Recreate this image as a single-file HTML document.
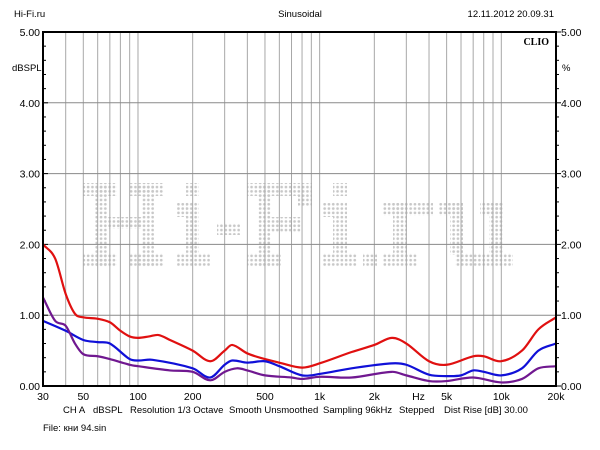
<!DOCTYPE html>
<html><head><meta charset="utf-8"><style>
html,body{margin:0;padding:0;background:#fff;width:600px;height:450px;overflow:hidden}
text{font-family:"Liberation Sans",sans-serif;font-size:9.5px;fill:#000}
</style></head><body>
<svg id="s" width="600" height="450" xmlns="http://www.w3.org/2000/svg">
<defs><pattern id="dots" width="4.3" height="4.3" patternUnits="userSpaceOnUse"><circle cx="2.15" cy="2.15" r="1.35" fill="#c8c8c8"/></pattern></defs>
<text x="14" y="17">Hi-Fi.ru</text>
<text x="300" y="17" text-anchor="middle">Sinusoidal</text>
<text x="554" y="17" text-anchor="end">12.11.2012 20.09.31</text>
<g fill="url(#dots)">
<rect x="83" y="183" width="34" height="13"/><rect x="95" y="183" width="13" height="84"/><rect x="83" y="253" width="34" height="14"/>
<rect x="130" y="183" width="34" height="13"/><rect x="142" y="183" width="12" height="84"/><rect x="130" y="253" width="34" height="14"/>
<rect x="108" y="217" width="34" height="12"/>
<rect x="186" y="183" width="13" height="13"/><rect x="186" y="202" width="13" height="52"/><rect x="177" y="203" width="10" height="14"/><rect x="177" y="253" width="33" height="14"/>
<rect x="217" y="223" width="23" height="12"/>
<rect x="247" y="183" width="65" height="13"/><rect x="258" y="183" width="13" height="84"/><rect x="298" y="196" width="14" height="10"/><rect x="271" y="217" width="30" height="16"/><rect x="247" y="253" width="34" height="14"/>
<rect x="333" y="183" width="14" height="13"/><rect x="333" y="202" width="14" height="52"/><rect x="323" y="203" width="10" height="14"/><rect x="323" y="253" width="34" height="14"/>
<rect x="363" y="253" width="14" height="14"/>
<rect x="383" y="203" width="50" height="13"/><rect x="393" y="203" width="14" height="52"/><rect x="383" y="253" width="34" height="14"/>
<rect x="439" y="203" width="24" height="13"/><rect x="450" y="203" width="13" height="52"/><rect x="455" y="253" width="58" height="14"/>
<rect x="480" y="203" width="23" height="13"/><rect x="489" y="203" width="14" height="52"/>
</g>
<g id="g"></g>
<text x="549" y="45" text-anchor="end" style="font-family:'Liberation Serif',serif;font-weight:bold;font-size:10px">CLIO</text>
<text x="12" y="71">dBSPL</text>
<text x="562" y="71">%</text>
<text x="63" y="413">CH A</text><text x="93" y="413">dBSPL</text>
<text x="130" y="413">Resolution 1/3 Octave</text>
<text x="229" y="413">Smooth Unsmoothed</text>
<text x="323" y="413">Sampling 96kHz</text>
<text x="399" y="413">Stepped</text>
<text x="444" y="413">Dist Rise [dB] 30.00</text>
<text x="43" y="431">File: кни 94.sin</text>
</svg>
<script>
var L=43,R=556,T=32,B=386;
function X(f){return L+(R-L)*Math.log10(f/30)/Math.log10(20000/30);}
function Y(v){return B-v*(B-T)/5;}
var h='';
var fs=[40,50,60,70,80,90,100,200,300,400,500,600,700,800,900,1000,2000,3000,4000,5000,6000,7000,8000,9000,10000];
fs.forEach(function(f){h+='<line x1="'+X(f)+'" x2="'+X(f)+'" y1="'+T+'" y2="'+B+'" stroke="#a8a8a8" stroke-width="1"/>';});
for(var v=1;v<5;v++)h+='<line x1="'+L+'" x2="'+R+'" y1="'+Y(v)+'" y2="'+Y(v)+'" stroke="#8a8a8a"/>';
for(var i=0;i<=25;i++){var y=Y(i*0.2),w=(i%5==0)?5:3;h+='<line x1="'+L+'" x2="'+(L+w)+'" y1="'+y+'" y2="'+y+'" stroke="#000"/><line x1="'+R+'" x2="'+(R+w)+'" y1="'+y+'" y2="'+y+'" stroke="#000"/>';}
for(var v=0;v<=5;v++){h+='<text x="40" y="'+(Y(v)+4)+'" text-anchor="end" style="font-size:10.5px">'+v.toFixed(2)+'</text><text x="561" y="'+(Y(v)+4)+'" style="font-size:10.5px">'+v.toFixed(2)+'</text>';}
[[30,'30'],[50,'50'],[100,'100'],[200,'200'],[500,'500'],[1000,'1k'],[2000,'2k'],[3500,'Hz'],[5000,'5k'],[10000,'10k'],[20000,'20k']].forEach(function(a){h+='<text x="'+X(a[0])+'" y="400" text-anchor="middle" style="font-size:10.5px">'+a[1]+'</text>';});
function path(d,c){var p=d.map(function(a){return [X(a[0]),Y(a[1])];});var n=p.length,m=[];
for(var i=0;i<n;i++){var a=p[Math.max(0,i-1)],b=p[Math.min(n-1,i+1)];m.push((b[1]-a[1])/(b[0]-a[0]));}
var s='M'+p[0][0]+','+p[0][1];
for(var i=0;i<n-1;i++){var dx=(p[i+1][0]-p[i][0])/3;
s+=' C'+(p[i][0]+dx)+','+(p[i][1]+m[i]*dx)+' '+(p[i+1][0]-dx)+','+(p[i+1][1]-m[i+1]*dx)+' '+p[i+1][0]+','+p[i+1][1];}
return '<path d="'+s+'" fill="none" stroke="'+c+'" stroke-width="2.2"/>';}
var red=[[30,2.0],[35,1.8],[40,1.3],[45,1.02],[50,0.97],[60,0.95],[70,0.9],[80,0.78],[90,0.7],[100,0.68],[115,0.7],[130,0.72],[150,0.65],[200,0.5],[250,0.35],[300,0.5],[330,0.58],[400,0.46],[500,0.38],[600,0.33],[800,0.26],[1000,0.32],[1500,0.48],[2000,0.58],[2500,0.68],[3000,0.6],[4000,0.35],[5000,0.3],[7000,0.42],[8000,0.42],[10000,0.35],[13000,0.5],[16000,0.8],[20000,0.97]];
var blue=[[30,0.92],[40,0.78],[50,0.65],[60,0.62],[70,0.6],[90,0.38],[100,0.36],[120,0.37],[200,0.25],[250,0.12],[300,0.3],[330,0.36],[400,0.33],[500,0.35],[600,0.28],[800,0.15],[1000,0.17],[1500,0.25],[2500,0.32],[3000,0.3],[4000,0.16],[5000,0.14],[6000,0.15],[7000,0.22],[8000,0.2],[10000,0.15],[13000,0.25],[16000,0.5],[20000,0.6]];
var pur=[[30,1.25],[35,0.92],[40,0.85],[45,0.6],[50,0.45],[60,0.42],[70,0.38],[90,0.3],[100,0.28],[150,0.22],[200,0.2],[250,0.08],[300,0.2],[350,0.25],[400,0.22],[500,0.15],[700,0.12],[800,0.1],[1000,0.13],[1500,0.12],[2500,0.2],[3000,0.15],[4000,0.07],[5000,0.07],[7000,0.12],[10000,0.05],[13000,0.1],[16000,0.25],[20000,0.28]];
h+=path(red,'#e01010')+path(blue,'#1010d8')+path(pur,'#701890');
h+='<rect x="'+L+'" y="'+T+'" width="'+(R-L)+'" height="'+(B-T)+'" fill="none" stroke="#000" stroke-width="2"/>';
document.getElementById('g').innerHTML=h;
</script>
</body></html>
